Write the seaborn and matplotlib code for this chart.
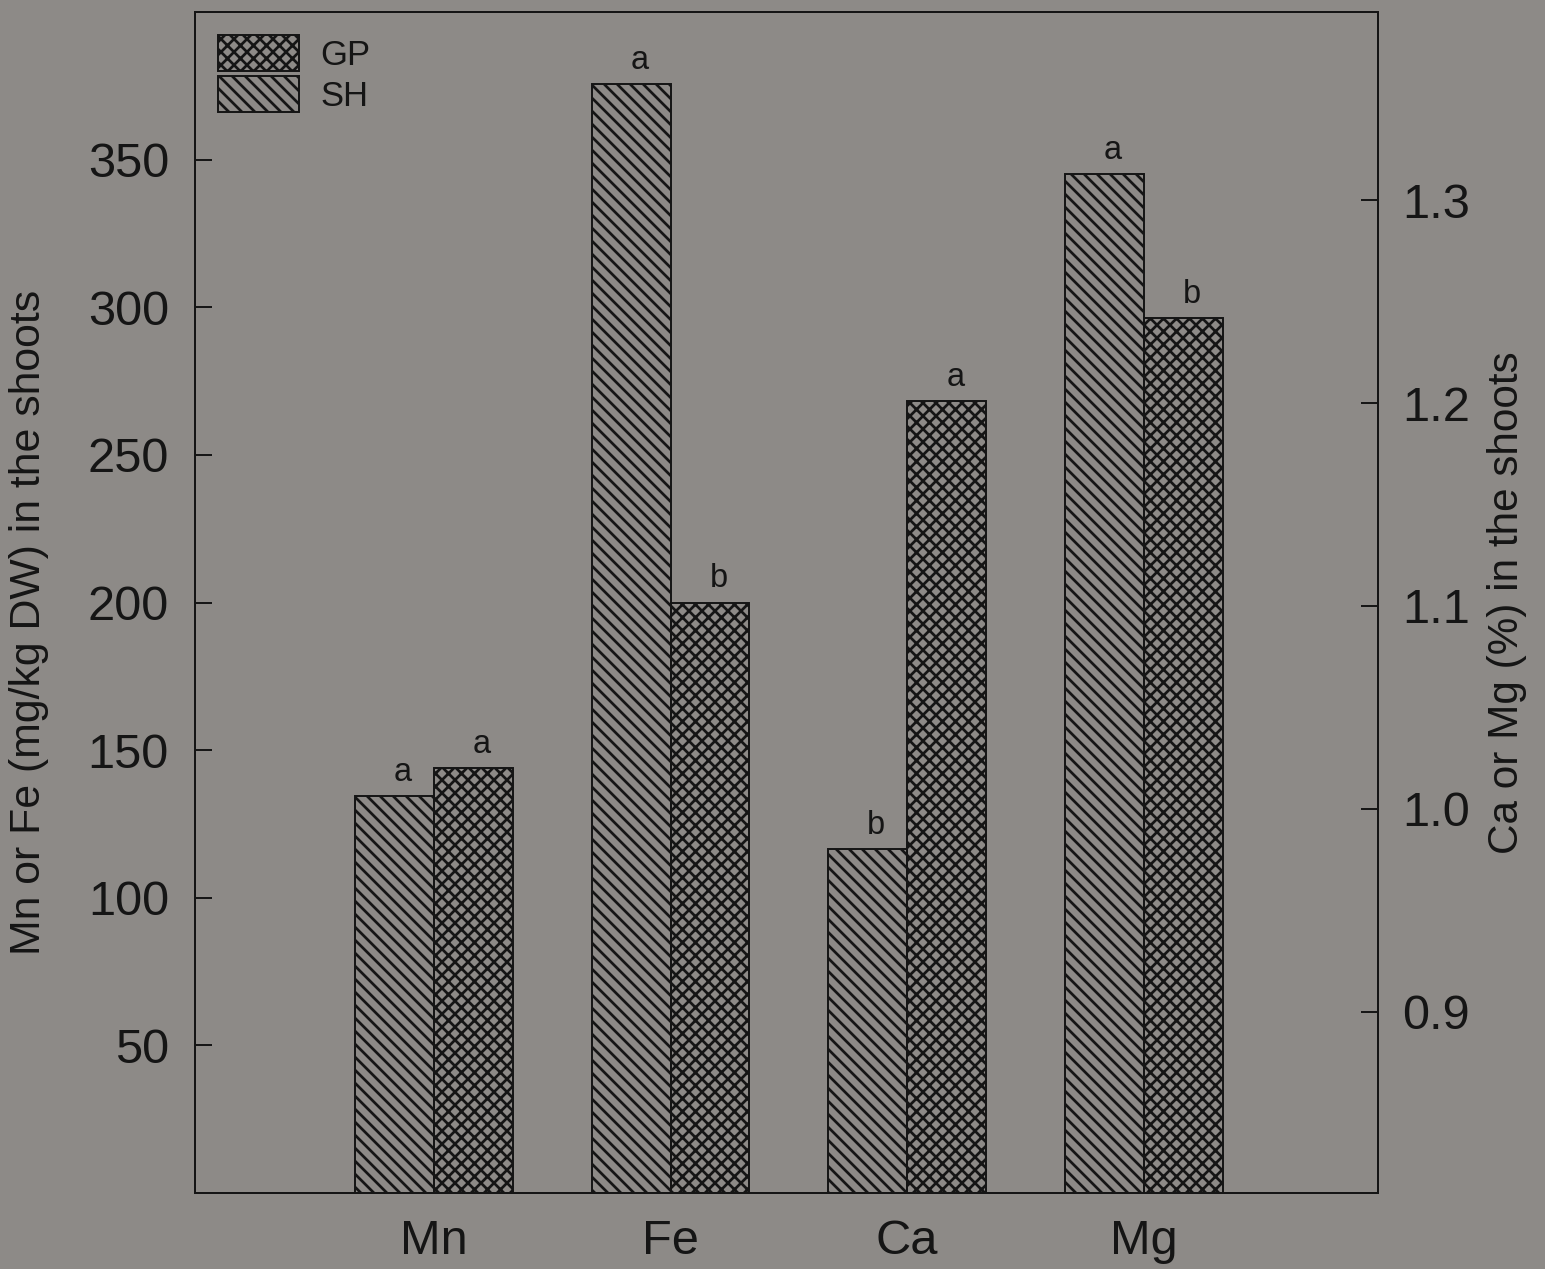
import matplotlib
matplotlib.use("Agg")
import matplotlib.pyplot as plt
import pandas as pd
import seaborn as sns
from matplotlib.patches import Patch

# Shoot nutrient concentrations of two cultivars
elements = ["Mn", "Fe", "Ca", "Mg"]
cultivars = ["SH", "GP"]

micro_elements = ["Mn", "Fe"]          # mg/kg DW, left axis
micro_sh = [134.5, 375.6]
micro_gp = [143.8, 200.0]
micro_sig_sh = ["a", "a"]
micro_sig_gp = ["a", "b"]

macro_elements = ["Ca", "Mg"]          # %, right axis
macro_sh = [0.980, 1.313]
macro_gp = [1.201, 1.242]
macro_sig_sh = ["b", "a"]
macro_sig_gp = ["a", "b"]

left_ticks = [50, 100, 150, 200, 250, 300, 350]
right_ticks = [0.9, 1.0, 1.1, 1.2, 1.3]

hatches = {"SH": "\\\\", "GP": "xx"}

BG = "#8d8a87"
INK = "#151515"

sns.set_theme(style="ticks")
plt.rcParams.update({
    "font.family": ["Liberation Sans", "DejaVu Sans"],
    "axes.facecolor": BG,
    "figure.facecolor": BG,
    "savefig.facecolor": BG,
    "axes.edgecolor": INK,
    "axes.linewidth": 1.8,
    "hatch.linewidth": 2.5,
    "hatch.color": INK,
    "text.color": INK,
    "xtick.color": INK,
    "ytick.color": INK,
    "axes.labelcolor": INK,
})


def long_table(names, sh, gp, sig_sh, sig_gp):
    rows = []
    for n, v, s in zip(names, sh, sig_sh):
        rows.append({"element": n, "cultivar": "SH", "value": v, "sig": s})
    for n, v, s in zip(names, gp, sig_gp):
        rows.append({"element": n, "cultivar": "GP", "value": v, "sig": s})
    return pd.DataFrame(rows)


micro_df = long_table(micro_elements, micro_sh, micro_gp, micro_sig_sh, micro_sig_gp)
macro_df = long_table(macro_elements, macro_sh, macro_gp, macro_sig_sh, macro_sig_gp)

DPI = 78
fig = plt.figure(figsize=(1545 / DPI, 1269 / DPI), dpi=DPI)
ax = fig.add_axes([0.1262, 0.0599, 0.7657, 0.9306])
ax2 = ax.twinx()


def draw_bars(axis, df):
    sns.barplot(data=df, x="element", y="value", hue="cultivar",
                order=elements, hue_order=cultivars, width=2 / 3,
                errorbar=None, legend=False, ax=axis)
    for cont, cult in zip(axis.containers, cultivars):
        sigs = df[df["cultivar"] == cult].set_index("element")["sig"]
        vals = df[df["cultivar"] == cult]["element"].tolist()
        for bar in cont:
            bar.set_facecolor("none")
            bar.set_edgecolor(INK)
            bar.set_linewidth(1.8)
            bar.set_hatch(hatches[cult])
        for bar, name in zip(cont, vals):
            h = bar.get_height()
            if pd.isna(h):
                continue
            axis.annotate(sigs[name], (bar.get_x() + bar.get_width() / 2, h),
                          xytext=(8, 14), textcoords="offset points",
                          ha="center", va="baseline", fontsize=30, color=INK)


draw_bars(ax, micro_df)
draw_bars(ax2, macro_df)

ax.set_xlim(-1.01, 3.99)
ax.set_ylim(0, 400)
ax2.set_ylim(0.8107, 1.3927)

ax.set_yticks(left_ticks)
ax2.set_yticks(right_ticks)
ax2.set_yticklabels([f"{t:.1f}" for t in right_ticks])

ax.tick_params(axis="y", direction="in", length=15.5, width=1.8,
               labelsize=45, pad=24)
ax2.tick_params(axis="y", direction="in", length=15.5, width=1.8,
                labelsize=45, pad=22)
ax.tick_params(axis="x", length=0, labelsize=45, pad=24)
ax2.tick_params(axis="x", length=0)

ax.set_xlabel("")
ax2.set_xlabel("")
ax.set_ylabel("Mn or Fe (mg/kg DW) in the shoots", fontsize=39.5,
              labelpad=36, y=0.483)
ax2.set_ylabel("Ca or Mg (%) in the shoots", fontsize=39, labelpad=16)

for a in (ax, ax2):
    for sp in a.spines.values():
        sp.set_visible(True)
        sp.set_linewidth(1.8)
        sp.set_color(INK)

handles = [Patch(facecolor="none", edgecolor=INK, linewidth=1.8, hatch=hatches[c])
           for c in ["GP", "SH"]]
ax2.legend(handles, ["GP", "SH"], loc="upper left", frameon=False,
           fontsize=32, handlelength=2.35, handleheight=1.23,
           labelspacing=0.12, handletextpad=0.6, borderpad=0,
           borderaxespad=0.66)

fig.savefig("out.png", dpi=DPI)
